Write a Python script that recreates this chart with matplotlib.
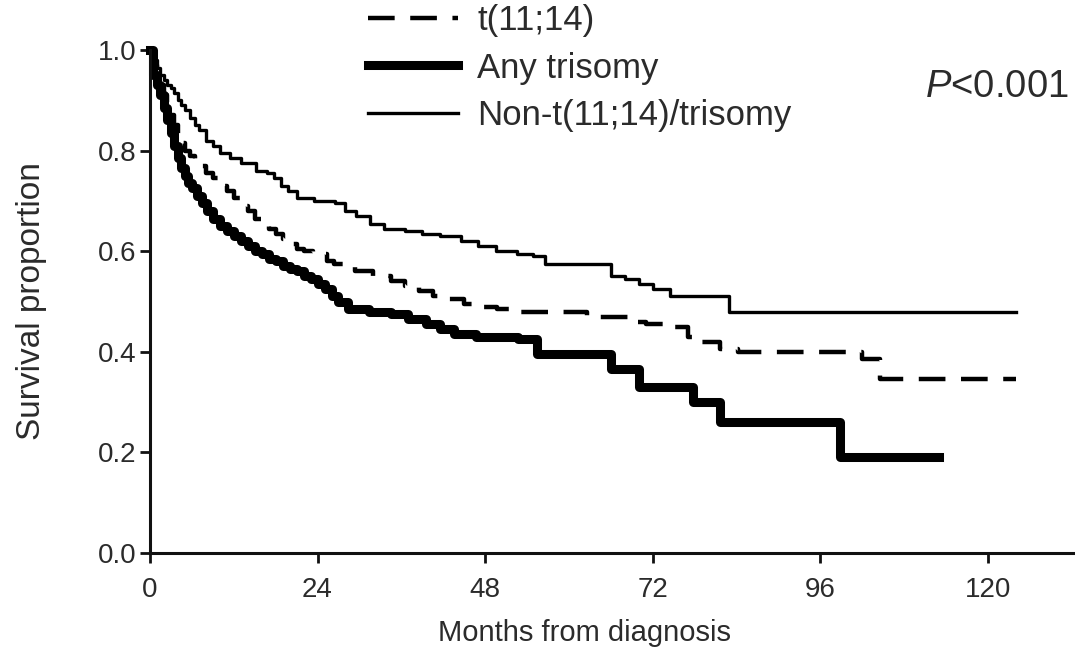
"""
Kaplan-Meier style overall survival by cytogenetic group.
Three step curves: t(11;14), any trisomy, and neither.
"""

import matplotlib
matplotlib.use("Agg")
import matplotlib.pyplot as plt
from matplotlib.lines import Line2D

# ---------------------------------------------------------------------------
# Data
# ---------------------------------------------------------------------------

t1114_months = [0, 0.5, 1, 1.5, 2, 2.5, 3, 3.5, 4, 4.5, 5, 5.7, 6.5, 7, 8, 9,
                10, 11, 12, 13, 14, 15, 16, 17, 18, 19, 20, 21, 22, 23.3, 25.4,
                26.4, 29.4, 32, 34.5, 36.5, 38.5, 40.5, 42.6, 45, 47.3, 49.7,
                52.7, 62.6, 65.9, 68.8, 71, 74.5, 77, 79, 81.7, 84.2, 102,
                104.5, 124]
t1114_surv = [1.0, 0.97, 0.95, 0.93, 0.91, 0.89, 0.87, 0.85, 0.83, 0.815, 0.80,
              0.79, 0.78, 0.77, 0.755, 0.745, 0.73, 0.72, 0.705, 0.69, 0.68,
              0.665, 0.655, 0.645, 0.635, 0.625, 0.615, 0.605, 0.60, 0.595,
              0.58, 0.575, 0.56, 0.55, 0.54, 0.53, 0.52, 0.51, 0.505, 0.495,
              0.49, 0.485, 0.48, 0.47, 0.47, 0.46, 0.455, 0.45, 0.43, 0.42,
              0.405, 0.40, 0.385, 0.345, 0.345]

tri_months = [0, 0.5, 1, 1.5, 2, 2.5, 3, 3.5, 4, 4.5, 5, 5.5, 6, 6.7, 7.5, 8.2,
              9, 10, 11, 12, 13, 14, 15, 16, 17, 18, 19, 20, 21, 22, 23, 24, 25,
              26, 27, 28.4, 31.4, 34.5, 37, 39.6, 41.6, 43.6, 46.7, 52.7, 55.4,
              66, 70, 77.8, 81.7, 98.9, 113]
tri_surv = [1.0, 0.95, 0.93, 0.91, 0.885, 0.86, 0.835, 0.81, 0.785, 0.765, 0.75,
            0.735, 0.725, 0.71, 0.695, 0.68, 0.665, 0.65, 0.64, 0.63, 0.62, 0.61,
            0.60, 0.595, 0.585, 0.58, 0.57, 0.565, 0.56, 0.55, 0.545, 0.535,
            0.525, 0.51, 0.50, 0.485, 0.48, 0.475, 0.465, 0.455, 0.445, 0.435,
            0.43, 0.425, 0.395, 0.365, 0.33, 0.30, 0.26, 0.19, 0.19]

other_months = [0, 0.5, 1, 1.5, 2, 2.5, 3, 3.5, 4, 4.5, 5, 5.7, 6.5, 7, 8, 9,
                10, 11.5, 13, 15.2, 16.7, 17.7, 18.7, 19.8, 21, 23.5, 26.5, 28,
                29.5, 31.5, 33.5, 36.5, 39, 41.5, 44.5, 47, 49.5, 52.5, 54.8,
                56.6, 66, 68, 70, 72, 74.5, 83, 124]
other_surv = [1.0, 0.98, 0.965, 0.95, 0.94, 0.93, 0.925, 0.915, 0.90, 0.89,
              0.88, 0.865, 0.85, 0.84, 0.82, 0.81, 0.795, 0.785, 0.775, 0.76,
              0.755, 0.745, 0.73, 0.72, 0.705, 0.70, 0.695, 0.68, 0.67, 0.655,
              0.645, 0.64, 0.635, 0.63, 0.62, 0.61, 0.60, 0.595, 0.59, 0.575,
              0.55, 0.545, 0.535, 0.525, 0.51, 0.48, 0.48]

group_labels = ["t(11;14)", "Any trisomy", "Non-t(11;14)/trisomy"]
x_ticks = [0, 24, 48, 72, 96, 120]
y_ticks = [0.0, 0.2, 0.4, 0.6, 0.8, 1.0]
p_text = "$P$<0.001"

# ---------------------------------------------------------------------------
# Style
# ---------------------------------------------------------------------------

TEXT = "#2b2b2b"
plt.rcParams["font.family"] = ["Liberation Sans", "DejaVu Sans"]
plt.rcParams["mathtext.fontset"] = "custom"
plt.rcParams["mathtext.rm"] = "Liberation Sans"
plt.rcParams["mathtext.it"] = "Liberation Sans:italic"

styles = [
    dict(color="black", lw=3.2, linestyle=(0, (6, 3.5))),
    dict(color="black", lw=6.5, linestyle="-"),
    dict(color="black", lw=2.4, linestyle="-"),
]

# ---------------------------------------------------------------------------
# Figure
# ---------------------------------------------------------------------------

fig = plt.figure(figsize=(10.75, 6.5), dpi=100)
ax = fig.add_axes([150 / 1075, 97 / 650, 925 / 1075, 503 / 650])

series = [(t1114_months, t1114_surv),
          (tri_months, tri_surv),
          (other_months, other_surv)]
for (months, surv), st in zip(series, styles):
    ax.step(months, surv, where="post", clip_on=False, **st)

ax.set_xlim(0, 132.5)
ax.set_ylim(0, 1.0)
ax.set_xticks(x_ticks)
ax.set_yticks(y_ticks)
ax.set_yticklabels([f"{v:.1f}" for v in y_ticks])

for side in ("top", "right"):
    ax.spines[side].set_visible(False)
for side in ("left", "bottom"):
    ax.spines[side].set_linewidth(2.2)
    ax.spines[side].set_color("#111111")
ax.tick_params(axis="both", length=7, width=2, color="#111111",
               labelsize=20, labelcolor=TEXT)
ax.tick_params(axis="y", pad=3)
ax.tick_params(axis="x", pad=10)

ax.set_xlabel("Months from diagnosis", fontsize=21, color=TEXT, labelpad=12)
ax.xaxis.label.set_x(0.47)
ax.set_ylabel("Survival proportion", fontsize=24, color=TEXT, labelpad=36)

ax.text(131.6, 0.926, p_text, ha="right", va="center", fontsize=27.5,
        color=TEXT)

handles = [Line2D([0], [0], **st) for st in styles]
ax.legend(handles, group_labels, loc="upper left",
          bbox_to_anchor=(368 / 1075, 1.0 - 4 / 650),
          bbox_transform=fig.transFigure,
          frameon=False, fontsize=25, labelcolor=TEXT,
          handlelength=2.6, handletextpad=0.55, labelspacing=0.42,
          borderpad=0.0, borderaxespad=0.0)

fig.savefig("out.png", dpi=100)
